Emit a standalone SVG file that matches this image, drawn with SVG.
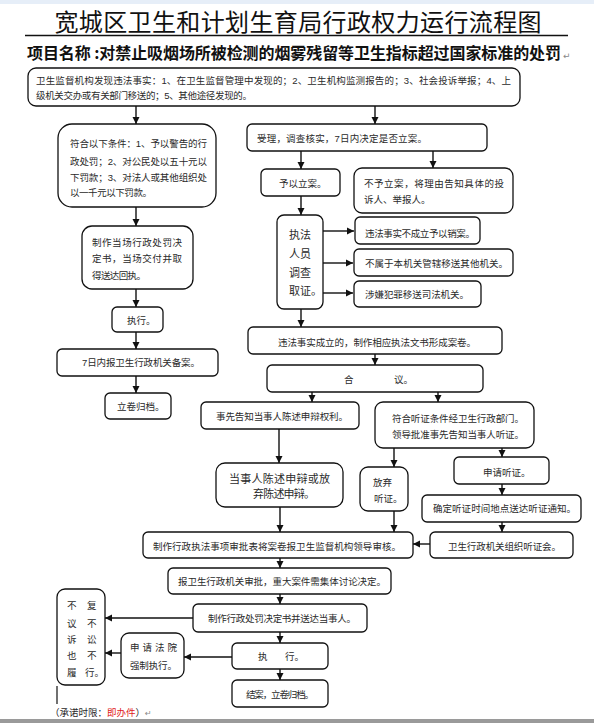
<svg xmlns="http://www.w3.org/2000/svg" width="594" height="723" viewBox="0 0 594 723">
<style>
.b{fill:#fff;stroke:#111;stroke-width:1.3}
.t{font-family:"Liberation Sans","Noto Sans CJK SC",sans-serif;font-size:9.5px;fill:#2a2a2a}
.m{font-size:11px}
.c{stroke:#111;stroke-width:1.4;fill:none;marker-end:url(#ah)}
</style>
<defs>
<marker id="ah" markerUnits="userSpaceOnUse" markerWidth="8" markerHeight="8" refX="7" refY="4" orient="auto">
<path d="M0,0.5 L7,4 L0,7.5 z" fill="#111"/>
</marker>
</defs>
<rect width="594" height="723" fill="#fff"/>
<rect x="0" y="0" width="594" height="4" fill="#e6eef8"/>
<rect x="0" y="719" width="594" height="4" fill="#9a9a9a"/>

<g id="title">
<text x="298" y="31" text-anchor="middle" font-family="'Noto Sans CJK SC',sans-serif" font-size="24" fill="#111" textLength="487">宽城区卫生和计划生育局行政权力运行流程图</text>
<line x1="25" y1="35.5" x2="568" y2="35.5" stroke="#111" stroke-width="1.3"/>
<text x="27" y="59" font-family="'Noto Sans CJK SC',sans-serif" font-size="16" font-weight="bold" fill="#111" textLength="534">项目名称 :对禁止吸烟场所被检测的烟雾残留等卫生指标超过国家标准的处罚</text>
<text x="563" y="59" font-family="'DejaVu Sans',sans-serif" font-size="9" fill="#888">↵</text>
</g>

<g id="connectors">
<path class="c" d="M136,106 V124"/>
<path class="c" d="M375,106 V124"/>
<path class="c" d="M136,207 V226"/>
<path class="c" d="M136,289 V307"/>
<path class="c" d="M136,332 V349"/>
<path class="c" d="M136,376 V393"/>
<path class="c" d="M301,151 V169"/>
<path class="c" d="M433,151 V168"/>
<path class="c" d="M301,196 V215"/>
<path class="c" d="M323,231 H354"/>
<path class="c" d="M323,263 H353"/>
<path class="c" d="M323,293 H353"/>
<path class="c" d="M301,309 V327"/>
<path class="c" d="M375,354 V365"/>
<path class="c" d="M312,392 V402"/>
<path class="c" d="M438,392 V402"/>
<path class="c" d="M279,429 V463"/>
<path class="c" d="M394,448 V467"/>
<path class="c" d="M502,448 V457"/>
<path class="c" d="M502,484 V495"/>
<path class="c" d="M502,522 V532"/>
<path class="c" d="M430,544 H413"/>
<path class="c" d="M280,507 V532"/>
<path class="c" d="M394,511 V532"/>
<path class="c" d="M280,558 V568"/>
<path class="c" d="M280,594 V604"/>
<path class="c" d="M193,618 H105"/>
<path class="c" d="M280,632 V643"/>
<path class="c" d="M232,657 H184"/>
<path class="c" d="M121,653 H105"/>
<path class="c" d="M280,669 V680"/>
<path d="M57,686 V704" stroke="#111" stroke-width="1.2"/>
</g>

<g id="n-start">
<rect class="b" x="28" y="68" width="492" height="38" rx="8"/>
<text class="t" x="36" y="84" font-size="9" textLength="475">卫生监督机构发现违法事实：1、在卫生监督管理中发现的；2、卫生机构监测报告的；3、社会投诉举报；4、上</text>
<text class="t" x="36" y="99" font-size="9" textLength="216">级机关交办或有关部门移送的；5、其他途径发现的。</text>
</g>

<g id="n-simple">
<rect class="b" x="58" y="124" width="158" height="83" rx="14"/>
<text class="t" x="70" y="147" textLength="137">符合以下条件：1、予以警告的行</text>
<text class="t" x="70" y="164.5" textLength="137">政处罚；2、对公民处以五十元以</text>
<text class="t" x="70" y="181" textLength="137">下罚款；3、对法人或其他组织处</text>
<text class="t" x="70" y="196" textLength="82">以一千元以下罚款。</text>
</g>

<g id="n-decision">
<rect class="b" x="82" y="226" width="111" height="63" rx="10"/>
<text class="t" x="92" y="246" textLength="90">制作当场行政处罚决</text>
<text class="t" x="92" y="262" textLength="90">定书，当场交付并取</text>
<text class="t" x="92" y="279" textLength="54">得送达回执。</text>
</g>

<g id="n-exec1">
<rect class="b" x="112" y="307" width="51" height="25" rx="5"/>
<text class="t" x="127" y="324">执行。</text>
</g>

<g id="n-record">
<rect class="b" x="57" y="349" width="161" height="27" rx="5"/>
<text class="t" x="82" y="366" textLength="118">7日内报卫生行政机关备案。</text>
</g>

<g id="n-archive1">
<rect class="b" x="105" y="393" width="66" height="26" rx="5"/>
<text class="t" x="117" y="410">立卷归档。</text>
</g>

<g id="n-accept">
<rect class="b" x="247" y="124" width="240" height="27" rx="5"/>
<text class="t" x="257" y="142" textLength="170">受理，调查核实，7日内决定是否立案。</text>
</g>

<g id="n-file">
<rect class="b" x="261" y="169" width="79" height="27" rx="5"/>
<text class="t" x="279" y="187">予以立案。</text>
</g>

<g id="n-nofile">
<rect class="b" x="354" y="168" width="159" height="45" rx="8"/>
<text class="t" x="364" y="187" textLength="140">不予立案，将理由告知具体的投</text>
<text class="t" x="364" y="203">诉人、举报人。</text>
</g>

<g id="n-investigate">
<rect class="b" x="277" y="215" width="46" height="94" rx="7"/>
<text class="t m" x="289" y="239">执法</text>
<text class="t m" x="289" y="258">人员</text>
<text class="t m" x="289" y="277">调查</text>
<text class="t m" x="289" y="295">取证。</text>
</g>

<g id="n-cancel">
<rect class="b" x="355" y="217" width="125" height="27" rx="5"/>
<text class="t" x="365" y="237" textLength="110">违法事实不成立予以销案。</text>
</g>

<g id="n-transfer">
<rect class="b" x="354" y="249" width="159" height="27" rx="5"/>
<text class="t" x="365" y="267" textLength="143">不属于本机关管辖移送其他机关。</text>
</g>

<g id="n-judicial">
<rect class="b" x="354" y="281" width="127" height="26" rx="5"/>
<text class="t" x="365" y="298" textLength="104">涉嫌犯罪移送司法机关。</text>
</g>

<g id="n-established">
<rect class="b" x="248" y="327" width="254" height="27" rx="5"/>
<text class="t" x="278" y="346" textLength="198">违法事实成立的，制作相应执法文书形成案卷。</text>
</g>

<g id="n-collegial">
<rect class="b" x="267" y="365" width="216" height="27" rx="5"/>
<text class="t" x="344" y="383">合</text>
<text class="t" x="394" y="383">议。</text>
</g>

<g id="n-notify">
<rect class="b" x="201" y="402" width="158" height="27" rx="5"/>
<text class="t" x="216" y="420" textLength="132">事先告知当事人陈述申辩权利。</text>
</g>

<g id="n-hearing-cond">
<rect class="b" x="375" y="402" width="159" height="46" rx="8"/>
<text class="t" x="392" y="422" textLength="132">符合听证条件经卫生行政部门。</text>
<text class="t" x="392" y="438" textLength="132">领导批准事先告知当事人听证。</text>
</g>

<g id="n-statement">
<rect class="b" x="216" y="463" width="127" height="44" rx="9"/>
<text class="t m" x="229" y="483" textLength="101">当事人陈述申辩或放</text>
<text class="t m" x="253" y="498" textLength="62">弃陈述申辩。</text>
</g>

<g id="n-waive">
<rect class="b" x="360" y="467" width="48" height="44" rx="8"/>
<text class="t" x="373" y="486">放弃</text>
<text class="t" x="374" y="502">听证。</text>
</g>

<g id="n-apply">
<rect class="b" x="454" y="457" width="95" height="27" rx="5"/>
<text class="t" x="483" y="476">申请听证。</text>
</g>

<g id="n-notice">
<rect class="b" x="422" y="495" width="159" height="27" rx="5"/>
<text class="t" x="433" y="512" textLength="143">确定听证时间地点送达听证通知。</text>
</g>

<g id="n-hearing">
<rect class="b" x="430" y="532" width="143" height="26" rx="5"/>
<text class="t" x="448" y="550" textLength="113">卫生行政机关组织听证会。</text>
</g>

<g id="n-approval-form">
<rect class="b" x="143" y="532" width="270" height="26" rx="5"/>
<text class="t" x="153" y="550" textLength="248">制作行政执法事项审批表将案卷报卫生监督机构领导审核。</text>
</g>

<g id="n-approve">
<rect class="b" x="168" y="568" width="223" height="26" rx="5"/>
<text class="t" x="178" y="585" textLength="208">报卫生行政机关审批，重大案件需集体讨论决定。</text>
</g>

<g id="n-penalty">
<rect class="b" x="193" y="604" width="174" height="28" rx="5"/>
<text class="t" x="208" y="622" textLength="148">制作行政处罚决定书并送达当事人。</text>
</g>

<g id="n-exec2">
<rect class="b" x="232" y="643" width="96" height="26" rx="5"/>
<text class="t" x="258" y="660">执</text>
<text class="t" x="285" y="660">行。</text>
</g>

<g id="n-close">
<rect class="b" x="232" y="680" width="96" height="27" rx="5"/>
<text class="t" x="246" y="698" textLength="68">结案，立卷归档。</text>
</g>

<g id="n-refuse">
<rect class="b" x="57" y="589" width="48" height="96" rx="8"/>
<text class="t" x="67" y="609">不</text><text class="t" x="87" y="609">复</text>
<text class="t" x="67" y="627">议</text><text class="t" x="87" y="627">不</text>
<text class="t" x="67" y="643">诉</text><text class="t" x="87" y="643">讼</text>
<text class="t" x="67" y="659">也</text><text class="t" x="87" y="659">不</text>
<text class="t" x="67" y="676">履</text><text class="t" x="85" y="676">行。</text>
</g>

<g id="n-court">
<rect class="b" x="121" y="633" width="63" height="45" rx="8"/>
<text class="t" x="130" y="651" textLength="47">申请法院</text>
<text class="t" x="130" y="669" textLength="47">强制执行。</text>
</g>

<g id="footer">
<text class="t" x="50" y="716" font-size="11">（承诺时限：<tspan fill="#e02020">即办件</tspan>）<tspan font-family="'DejaVu Sans',sans-serif" font-size="8" fill="#888">↵</tspan></text>
</g>
</svg>
